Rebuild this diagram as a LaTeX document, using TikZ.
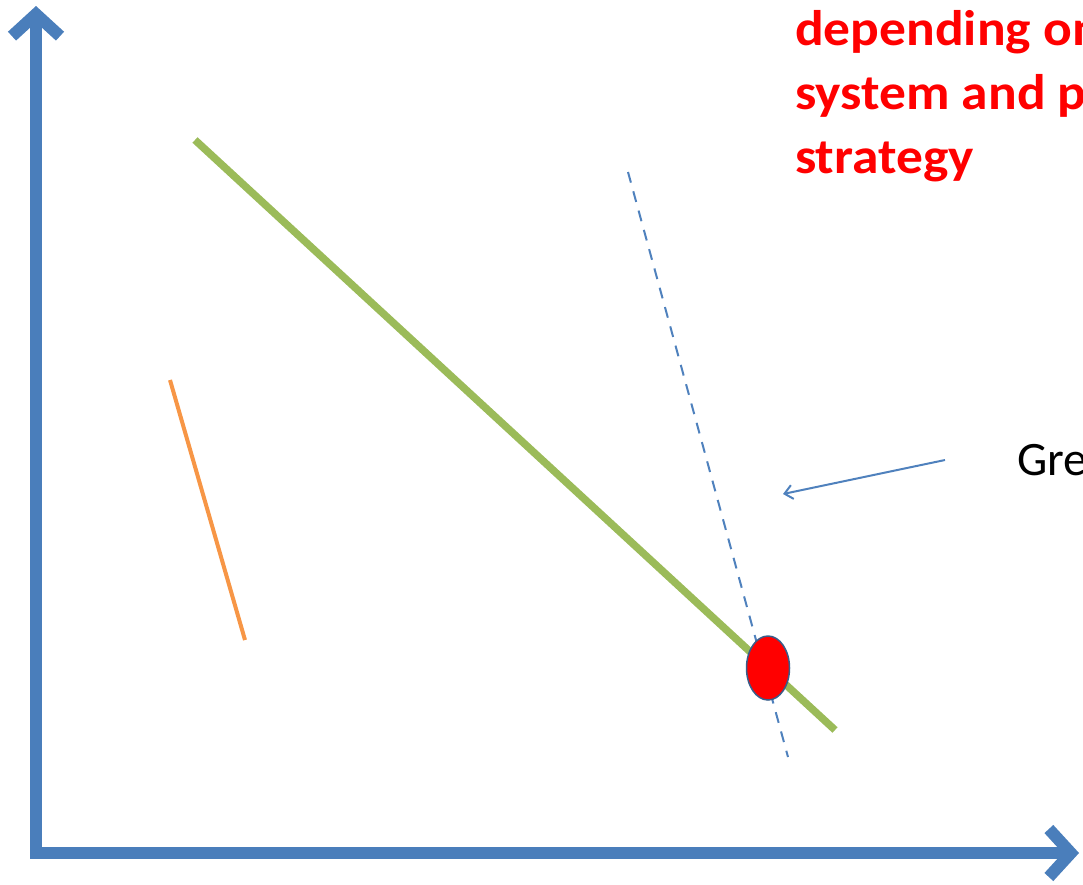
\documentclass[tikz,border=0pt]{standalone}
\usepackage{fontspec}
\setmainfont{Carlito}
\newfontfamily\redfont[FakeStretch=1.07]{Carlito}
\usetikzlibrary{arrows.meta,shapes.geometric}
\definecolor{axisblue}{HTML}{4A7EBB}
\definecolor{lgreen}{HTML}{9BBB59}
\definecolor{lorange}{HTML}{F79646}
\definecolor{dblue}{HTML}{4F81BD}
\definecolor{ebord}{HTML}{385D8A}
\tikzset{
  axis/.style={draw=axisblue, line width=12pt, line join=miter,
    {Straight Barb[length=22pt,width=48pt]}-{Straight Barb[length=22pt,width=48pt]}},
  pointer/.style={draw=dblue, line width=2pt, -{Straight Barb[length=8pt,width=14pt]}},
  redtext/.style={text=red, font=\redfont\bfseries\fontsize{50}{64}\selectfont, anchor=base west, inner sep=0pt},
  blacktext/.style={text=black, font=\fontsize{48}{58}\selectfont, anchor=base west, inner sep=0pt},
}
\begin{document}
\begin{tikzpicture}[x=1pt,y=-1pt]
\useasboundingbox (0,0) rectangle (1083,884);
\clip (0,0) rectangle (1083,884);
% axes
\coordinate (ytop) at (36,6);
\coordinate (origin) at (36,853);
\coordinate (xend) at (1079,853);
\draw[axis] (ytop) -- (origin) -- (xend);
% lines
\coordinate (g1) at (195,140);
\coordinate (g2) at (835,730);
\draw[lgreen, line width=7.5pt] (g1) -- (g2);
\coordinate (o1) at (170,380);
\coordinate (o2) at (245,640);
\draw[lorange, line width=4pt] (o1) -- (o2);
\coordinate (d1) at (628,172);
\coordinate (d2) at (788,757);
\draw[dblue, line width=2pt, dash pattern=on 11pt off 9pt] (d1) -- (d2);
% red point
\node (pt) [ellipse, minimum width=43pt, minimum height=64pt, inner sep=0pt, fill=red, draw=ebord, line width=1.5pt] at (768,668) {};
% pointer arrow
\coordinate (p1) at (945,460);
\coordinate (p2) at (783,494);
\draw[pointer] (p1) -- (p2);
% texts
\node[redtext] (t1) at (795,45) {depending on};
\node[redtext] (t2) at (795,109) {system and p};
\node[redtext] (t3) at (795,173) {strategy};
\node[blacktext] (t4) at (1017,475) {Gre};
\end{tikzpicture}
\end{document}
